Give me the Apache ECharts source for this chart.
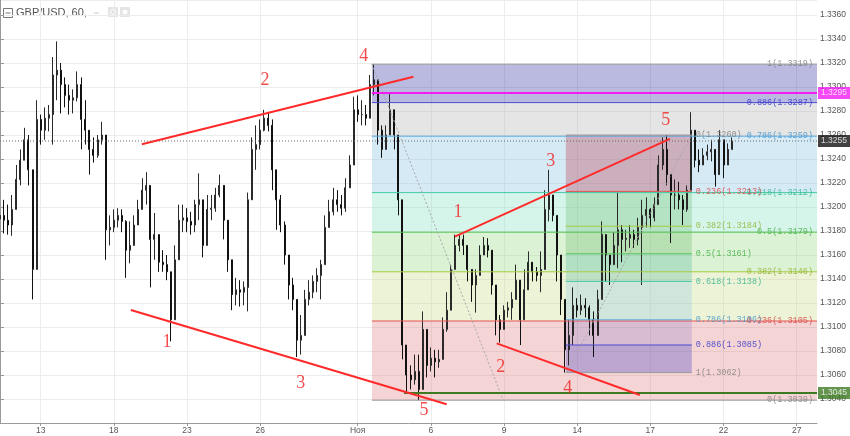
<!DOCTYPE html>
<html><head><meta charset="utf-8">
<script src="https://cdn.jsdelivr.net/npm/echarts@6/dist/echarts.min.js"></script>
<style>html,body{margin:0;padding:0;background:#fff}#c{width:850px;height:436px}</style>
</head><body><div id="c"></div>
<script>
// ---------- DATA ----------
const tradingDays = ['2017-10-11','2017-10-12','2017-10-13','2017-10-16','2017-10-17','2017-10-18','2017-10-19','2017-10-20',
 '2017-10-23','2017-10-24','2017-10-25','2017-10-26','2017-10-27','2017-10-30','2017-10-31','2017-11-01','2017-11-02','2017-11-03',
 '2017-11-06','2017-11-07','2017-11-08','2017-11-09','2017-11-10','2017-11-13','2017-11-14','2017-11-15','2017-11-16','2017-11-17',
 '2017-11-20','2017-11-21','2017-11-22','2017-11-23','2017-11-24','2017-11-27'];
const firstSessionHour = 8;   // first 4h bar of the window
const xTickDates  = ['2017-10-13','2017-10-18','2017-10-23','2017-10-26','2017-11-01','2017-11-06','2017-11-09','2017-11-14','2017-11-17','2017-11-22','2017-11-27'];
const xTickLabels = ['13','18','23','26','Ноя','6','9','14','17','22','27'];

const firstOpen = 1.3190;
const closes = [
1.3193,1.3189,1.3185,1.3198,1.3223,1.3239,1.3256,1.3231,1.3148,1.3273,
1.3264,1.3274,1.3277,1.3310,1.3314,1.3302,1.3293,1.3289,1.3291,1.3302,
1.3273,1.3264,1.3248,1.3243,1.3256,1.3260,1.3181,1.3183,1.3189,1.3193,
1.3188,1.3164,1.3168,1.3185,1.3198,1.3214,1.3218,1.3173,1.3177,1.3154,
1.3152,1.3146,1.3106,1.3156,1.3189,1.3191,1.3188,1.3185,1.3202,1.3206,
1.3168,1.3198,1.3199,1.3210,1.3218,1.3189,1.3156,1.3127,1.3131,1.3129,
1.3133,1.3206,1.3248,1.3252,1.3264,1.3274,1.3268,1.3231,1.3206,1.3185,
1.3160,1.3135,1.3123,1.3089,1.3093,1.3123,1.3129,1.3138,1.3143,1.3152,
1.3183,1.3196,1.3206,1.3202,1.3199,1.3216,1.3235,1.3281,1.3277,1.3277,
1.3274,1.3302,1.3306,1.3264,1.3248,1.3260,1.3281,1.3260,1.3206,1.3085,
1.3060,1.3056,1.3063,1.3048,1.3098,1.3068,1.3074,1.3071,1.3073,1.3098,
1.3114,1.3148,1.3168,1.3173,1.3168,1.3148,1.3135,1.3143,1.3160,1.3168,
1.3164,1.3135,1.3106,1.3098,1.3114,1.3116,1.3123,1.3139,1.3106,1.3131,
1.3154,1.3146,1.3143,1.3148,1.3198,1.3210,1.3193,1.3160,1.3123,1.3081,
1.3093,1.3118,1.3114,1.3118,1.3116,1.3106,1.3093,1.3123,1.3177,1.3160,
1.3152,1.3168,1.3181,1.3173,1.3174,1.3177,1.3173,1.3183,1.3193,1.3198,
1.3191,1.3202,1.3235,1.3248,1.3227,1.3210,1.3210,1.3206,1.3198,1.3214,
1.3264,1.3239,1.3235,1.3243,1.3246,1.3248,1.3227,1.3256,1.3235,1.3248,
1.3255];
const highs = [
1.3208,1.3206,1.3202,1.3210,1.3235,1.3248,1.3266,1.3260,1.3218,1.3289,
1.3277,1.3283,1.3285,1.3325,1.3338,1.3320,1.3308,1.3302,1.3298,1.3313,
1.3308,1.3289,1.3260,1.3258,1.3260,1.3271,1.3256,1.3193,1.3198,1.3199,
1.3198,1.3189,1.3188,1.3193,1.3206,1.3224,1.3229,1.3210,1.3195,1.3166,
1.3164,1.3160,1.3139,1.3168,1.3202,1.3202,1.3199,1.3196,1.3206,1.3228,
1.3193,1.3210,1.3210,1.3216,1.3227,1.3214,1.3181,1.3148,1.3141,1.3139,
1.3138,1.3212,1.3258,1.3268,1.3273,1.3281,1.3279,1.3273,1.3227,1.3210,
1.3188,1.3160,1.3141,1.3118,1.3110,1.3131,1.3139,1.3143,1.3149,1.3156,
1.3193,1.3206,1.3216,1.3214,1.3210,1.3224,1.3243,1.3292,1.3293,1.3289,
1.3285,1.3310,1.3319,1.3289,1.3268,1.3268,1.3295,1.3281,1.3260,1.3198,
1.3077,1.3068,1.3077,1.3077,1.3113,1.3085,1.3083,1.3081,1.3081,1.3108,
1.3129,1.3152,1.3177,1.3177,1.3177,1.3164,1.3148,1.3148,1.3168,1.3175,
1.3174,1.3158,1.3133,1.3110,1.3118,1.3121,1.3129,1.3152,1.3131,1.3148,
1.3163,1.3152,1.3150,1.3163,1.3214,1.3231,1.3206,1.3181,1.3135,1.3114,
1.3106,1.3133,1.3124,1.3127,1.3124,1.3118,1.3113,1.3131,1.3188,1.3173,
1.3160,1.3179,1.3212,1.3185,1.3181,1.3185,1.3181,1.3191,1.3206,1.3208,
1.3199,1.3208,1.3243,1.3258,1.3260,1.3220,1.3223,1.3221,1.3210,1.3218,
1.3279,1.3260,1.3248,1.3249,1.3252,1.3256,1.3246,1.3264,1.3248,1.3253,
1.3258];
const lows = [
1.3178,1.3178,1.3177,1.3176,1.3202,1.3218,1.3239,1.3218,1.3123,1.3156,
1.3252,1.3256,1.3263,1.3252,1.3289,1.3278,1.3283,1.3277,1.3278,1.3288,
1.3248,1.3252,1.3227,1.3237,1.3241,1.3252,1.3156,1.3168,1.3179,1.3183,
1.3179,1.3141,1.3153,1.3168,1.3185,1.3200,1.3202,1.3133,1.3156,1.3146,
1.3146,1.3139,1.3088,1.3106,1.3164,1.3179,1.3179,1.3177,1.3179,1.3189,
1.3158,1.3168,1.3189,1.3196,1.3208,1.3173,1.3146,1.3114,1.3118,1.3117,
1.3118,1.3113,1.3214,1.3231,1.3248,1.3263,1.3263,1.3214,1.3181,1.3179,
1.3152,1.3123,1.3114,1.3075,1.3077,1.3093,1.3118,1.3124,1.3129,1.3123,
1.3164,1.3185,1.3193,1.3196,1.3193,1.3196,1.3216,1.3248,1.3271,1.3268,
1.3268,1.3285,1.3293,1.3252,1.3241,1.3249,1.3268,1.3248,1.3193,1.3073,
1.3046,1.3048,1.3052,1.3039,1.3048,1.3058,1.3063,1.3058,1.3066,1.3077,
1.3096,1.3127,1.3149,1.3163,1.3160,1.3138,1.3121,1.3112,1.3148,1.3160,
1.3158,1.3127,1.3093,1.3087,1.3102,1.3108,1.3106,1.3127,1.3085,1.3106,
1.3139,1.3138,1.3138,1.3129,1.3164,1.3188,1.3188,1.3138,1.3110,1.3062,
1.3068,1.3085,1.3108,1.3110,1.3108,1.3093,1.3075,1.3106,1.3123,1.3138,
1.3135,1.3154,1.3149,1.3154,1.3163,1.3166,1.3166,1.3168,1.3135,1.3183,
1.3183,1.3188,1.3223,1.3231,1.3218,1.3170,1.3198,1.3198,1.3185,1.3196,
1.3214,1.3233,1.3229,1.3235,1.3239,1.3238,1.3217,1.3231,1.3224,1.3239,
1.3248];

// Fibonacci retracements (levels and prices as labelled), anchors in bar units
const fibBigLevels  = ['1','0.886','0.786','0.618','0.5','0.382','0.236','0'];
const fibBigPrices  = [1.3319,1.3287,1.3259,1.3212,1.3179,1.3146,1.3105,1.3039];
const fibBigX       = [91.5, 201];
const fibBigTrend   = [[91.5,1.3319],[123.8,1.3039]];
const fibSmallLevels = ['0','0.236','0.382','0.5','0.618','0.786','0.886','1'];
const fibSmallPrices = [1.3260,1.3213,1.3184,1.3161,1.3138,1.3106,1.3085,1.3062];
const fibSmallX      = [139.2, 170.2];
const fibSmallTrend  = [[139.4,1.3062],[170.2,1.3260]];

const priceMagenta = 1.3295, magentaFromBar = 91.5;
const priceGreen = 1.3045, greenFromBar = 99.4;
const priceLast = 1.3255;

const trendLines = [
  [[34.9,1.32523],[101.7,1.33086]],
  [[32.2,1.31142],[109.9,1.30356]],
  [[111.9,1.31753],[164.8,1.32567]],
  [[122.2,1.30864],[157.4,1.30433]]
];
const waveLabels = ['4','2','1','3','5','1','3','5','2','4'];
const waveX      = [89.5,65.2,41.1,74.0,104.3,112.7,135.5,163.8,123.2,139.7];
const waveP      = [1.33258,1.33058,1.30875,1.30533,1.30308,1.31958,1.32383,1.32725,1.30667,1.30492];

// ---------- BUILD ----------
const categories = [];
tradingDays.forEach((d,di)=>{ for(let h=(di===0?firstSessionHour:0); h<24; h+=4) categories.push(d+' '+String(h).padStart(2,'0')+':00'); });
const lastIdx = categories.length-1;
const tickMap = {}; xTickDates.forEach((d,i)=>tickMap[d+' 00:00']=xTickLabels[i]);
const tickFn = (idx,val)=> tickMap[val]!==undefined;

const candles = closes.map((c,i)=>{
  const o = i===0 ? firstOpen : closes[i-1];
  return [o, c, Math.min(lows[i],o,c), Math.max(highs[i],o,c)];
});

const bigFill = ['rgba(28,28,152,0.3)','rgba(168,168,168,0.3)','rgba(118,185,222,0.3)','rgba(118,222,185,0.3)','rgba(135,212,115,0.3)','rgba(192,215,118,0.3)','rgba(218,112,112,0.3)'];
const smallFill = ['rgba(180,40,60,0.3)','rgba(76,175,80,0.25)','rgba(76,175,80,0.25)','rgba(8,153,129,0.2)','rgba(100,181,246,0.2)','rgba(60,60,200,0.15)','rgba(60,60,200,0.3)'];
const levelColor = {'1':'#9a9a9a','0.886':'#4a4ad6','0.786':'#5aaae0','0.618':'#45c9a4','0.5':'#55c255','0.382':'#a8c845','0.236':'#e85050','0':'#9a9a9a'};
const levelText = {'1':'#7d7d7d','0.886':'#2f2fc8','0.786':'#3d94cc','0.618':'#2fb38f','0.5':'#3fae3f','0.382':'#8fb02c','0.236':'#dc3c3c','0':'#7d7d7d'};

const zones = [];
for(let k=0;k<fibBigPrices.length-1;k++) zones.push([fibBigX[0],fibBigX[1],fibBigPrices[k],fibBigPrices[k+1],k,0]);
for(let k=0;k<fibSmallPrices.length-1;k++) zones.push([fibSmallX[0],fibSmallX[1],fibSmallPrices[k],fibSmallPrices[k+1],k,1]);

const segStyles = [];
const segs = [];
function addSeg(a,b,style){ segStyles.push(style); segs.push([a[0],a[1],b[0],b[1],segStyles.length-1]); }
fibBigPrices.forEach((p,i)=>addSeg([fibBigX[0],p],[fibBigX[1],p],{stroke:levelColor[fibBigLevels[i]],lineWidth:1}));
fibSmallPrices.forEach((p,i)=>addSeg([fibSmallX[0],p],[fibSmallX[1],p],{stroke:levelColor[fibSmallLevels[i]],lineWidth:1}));
addSeg(fibBigTrend[0],fibBigTrend[1],{stroke:'#a8a8a8',lineWidth:1,lineDash:[2,2]});
addSeg(fibSmallTrend[0],fibSmallTrend[1],{stroke:'#a8a8a8',lineWidth:1,lineDash:[2,2]});
addSeg([0,priceLast],[lastIdx,priceLast],{stroke:'#666',lineWidth:1,lineDash:[1,2]});
addSeg([magentaFromBar,priceMagenta],[lastIdx,priceMagenta],{stroke:'#f21cf2',lineWidth:2});
addSeg([greenFromBar,priceGreen],[lastIdx,priceGreen],{stroke:'#3d7a22',lineWidth:2});
trendLines.forEach(t=>addSeg(t[0],t[1],{stroke:'#ff2a2a',lineWidth:2}));

const monoFont = '"Liberation Mono","DejaVu Sans Mono",monospace';
const sansFont = '"Liberation Sans",Arial,sans-serif';
const labelItems = [];
fibBigPrices.forEach((p,i)=>labelItems.push({value:[lastIdx,p],label:{show:true,position:'left',distance:4,
  formatter:fibBigLevels[i]+'('+p.toFixed(4)+')',color:levelText[fibBigLevels[i]],fontSize:8.5,fontFamily:monoFont}}));
fibSmallPrices.forEach((p,i)=>labelItems.push({value:[fibSmallX[1],p],label:{show:true,position:'right',distance:4,
  formatter:fibSmallLevels[i]+'('+p.toFixed(4)+')',color:levelText[fibSmallLevels[i]],fontSize:8.5,fontFamily:monoFont}}));
waveLabels.forEach((t,i)=>labelItems.push({value:[waveX[i],waveP[i]],label:{show:true,position:'inside',formatter:t,
  color:'#f02020',fontSize:18,fontFamily:'"Liberation Serif","Times New Roman",serif'}}));
[[priceMagenta,'#f21cf2'],[priceLast,'#111111'],[priceGreen,'#3d7a22']].forEach(([p,bg])=>labelItems.push({value:[lastIdx,p],
  label:{show:true,position:'right',distance:1,formatter:p.toFixed(4),color:'#fff',backgroundColor:bg,padding:[2,3,1,3],fontSize:8.5,fontFamily:sansFont}}));

const chart = echarts.init(document.getElementById('c'),null,{renderer:'canvas'});
chart.setOption({
  animation:false,
  backgroundColor:'#fff',
  grid:{left:0,right:33,top:0,bottom:13},
  xAxis:[
    {type:'category',data:categories,boundaryGap:false,
     axisLine:{lineStyle:{color:'#9a9a9a'}},
     axisTick:{show:true,interval:tickFn,length:3,lineStyle:{color:'#9a9a9a'}},
     axisLabel:{interval:tickFn,formatter:v=>tickMap[v],color:'#555',fontSize:8.5,margin:3,fontFamily:sansFont},
     splitLine:{show:true,interval:tickFn,lineStyle:{color:'#ececec'}}},
    {type:'value',min:0,max:lastIdx,show:false}
  ],
  yAxis:{type:'value',position:'right',min:1.302,max:1.33725,interval:0.002,
     axisLine:{show:true,lineStyle:{color:'#9a9a9a'}},
     axisTick:{show:true,length:4,lineStyle:{color:'#9a9a9a'}},
     axisLabel:{formatter:v=>v.toFixed(4),showMinLabel:false,showMaxLabel:false,color:'#555',fontSize:8.5,margin:3,fontFamily:sansFont},
     splitLine:{lineStyle:{color:'#ececec'}}},
  series:[
    {type:'custom',xAxisIndex:1,yAxisIndex:0,z:1,silent:true,data:zones,
     renderItem:(params,api)=>{
       const a=api.coord([api.value(0),api.value(2)]), b=api.coord([api.value(1),api.value(3)]);
       const pal = api.value(5)===0?bigFill:smallFill;
       return {type:'rect',shape:{x:a[0],y:Math.min(a[1],b[1]),width:b[0]-a[0],height:Math.abs(b[1]-a[1])},style:{fill:pal[api.value(4)]}};
     }},
    {type:'candlestick',xAxisIndex:0,yAxisIndex:0,z:3,data:candles,barWidth:1.5,
     itemStyle:{color:'#2a2a2a',color0:'#111',borderColor:'#2a2a2a',borderColor0:'#111',borderWidth:1}},
    {type:'custom',xAxisIndex:1,yAxisIndex:0,z:4,silent:true,data:segs,
     renderItem:(params,api)=>{
       const a=api.coord([api.value(0),api.value(1)]), b=api.coord([api.value(2),api.value(3)]);
       const s=segStyles[api.value(4)];
       return {type:'line',shape:{x1:a[0],y1:a[1],x2:b[0],y2:b[1]},style:Object.assign({fill:null},s)};
     }},
    {type:'scatter',xAxisIndex:1,yAxisIndex:0,z:6,symbolSize:0,clip:false,silent:true,data:labelItems}
  ],
  graphic:[
    {type:'rect',shape:{x:3.5,y:8.5,width:9,height:9},style:{fill:'#fff',stroke:'#777',lineWidth:1}},
    {type:'line',shape:{x1:5.5,y1:13,x2:10.5,y2:13},style:{stroke:'#777',lineWidth:1}},
    {type:'text',x:16,y:7,style:{text:'GBP/USD, 60,',fill:'#555',font:'11px '+sansFont}},
    {type:'line',shape:{x1:94,y1:13,x2:99,y2:13},style:{stroke:'#ccc',lineWidth:1}},
    {type:'rect',shape:{x:108,y:7,width:10,height:10,r:1},style:{fill:'#e4e4e4'}},
    {type:'circle',shape:{cx:113,cy:12,r:2.5},style:{fill:'none',stroke:'#fff',lineWidth:1}},
    {type:'rect',shape:{x:120,y:7,width:10,height:10,r:1},style:{fill:'#e4e4e4'}},
    {type:'circle',shape:{cx:125,cy:12,r:2.5},style:{fill:'#fff'}}
  ]
});
</script></body></html>
